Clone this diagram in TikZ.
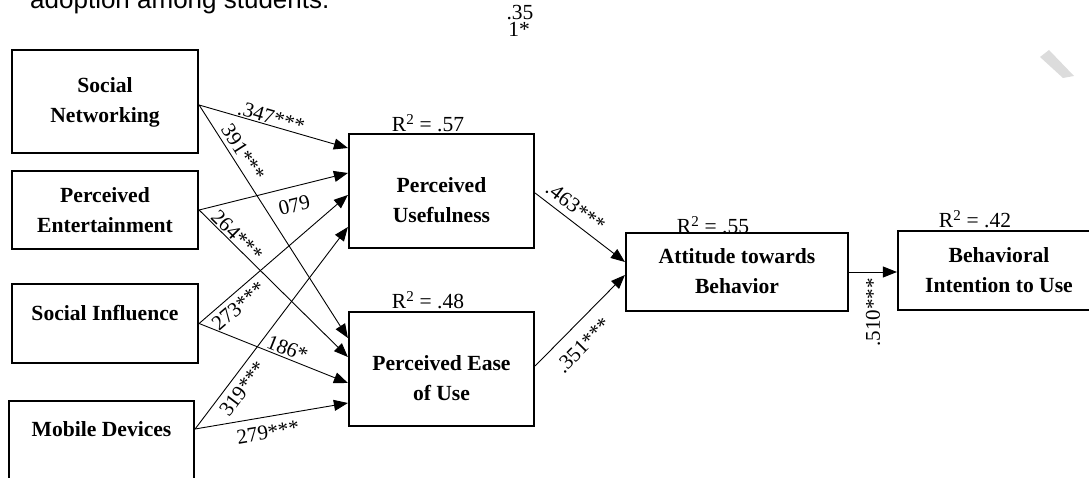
\documentclass[tikz,border=0pt]{standalone}
\usepackage{fontspec}
\setmainfont{Liberation Serif}
\newfontfamily\arialfont{Liberation Sans}
\usetikzlibrary{arrows.meta,calc}
\definecolor{wmgray}{RGB}{220,220,220}
\begin{document}
\begin{tikzpicture}[x=1pt,y=-1pt,
  box/.style={draw, line width=2.2pt, inner sep=0pt},
  boxtext/.style={font=\fontsize{21.6}{30}\selectfont\bfseries, align=center, inner sep=0pt},
  lab/.style={font=\fontsize{21}{24}\selectfont, inner sep=1pt},
  rsq/.style={font=\fontsize{21.5}{24}\selectfont, inner sep=0pt},
  arr/.style={line width=0.9pt, -{Triangle[length=14pt,width=11pt]}},
]
\useasboundingbox (0,0) rectangle (1089,478);
\clip (0,0) rectangle (1089,478);

% caption fragment and stray text
\node[font=\arialfont\fontsize{26}{30}\selectfont, anchor=base west, inner sep=0pt] (cap) at (30,9) {adoption among students.};
\node[rsq, anchor=base] (n35) at (520,20) {.35};
\node[rsq, anchor=base] (n1s) at (519,37) {1*};
\fill[wmgray] (1040,57) -- (1049,50) -- (1074,76) -- (1063,78) -- cycle;

% boxes
\node[box, minimum width=186pt, minimum height=103pt] (sn) at (105,101.5) {};
\node[box, minimum width=186pt, minimum height=78pt] (pe) at (105,210) {};
\node[box, minimum width=186pt, minimum height=79pt] (si) at (105,323.5) {};
\node[box, minimum width=185pt, minimum height=119pt] (md) at (101.5,460.5) {};
\node[box, minimum width=185pt, minimum height=114pt] (pu) at (441.5,191) {};
\node[box, minimum width=185pt, minimum height=114pt] (peou) at (441.5,369) {};
\node[box, minimum width=222pt, minimum height=78pt] (atb) at (737,272) {};
\node[box, minimum width=202pt, minimum height=79pt] (bi) at (999,270.5) {};

% box texts
\node[boxtext] (snT) at (105,102) {Social\\Networking};
\node[boxtext] (peT) at (105,210) {Perceived\\Entertainment};
\node[boxtext] (siT) at (105,313) {Social Influence};
\node[boxtext] (mdT) at (101.5,429) {Mobile Devices};
\node[boxtext] (puT) at (441.5,200) {Perceived\\Usefulness};
\node[boxtext] (peouT) at (441.5,378) {Perceived Ease\\of Use};
\node[boxtext] (atbT) at (737,271.5) {Attitude towards\\Behavior};
\node[boxtext] (biT) at (999,270) {Behavioral\\Intention to Use};

% R^2 labels
\node[rsq] (r57) at (428,123) {R\textsuperscript{2} = .57};
\node[rsq] (r48) at (428,300) {R\textsuperscript{2} = .48};
\node[rsq] (r55) at (713,225) {R\textsuperscript{2} = .55};
\node[rsq] (r42) at (975,219) {R\textsuperscript{2} = .42};

% paths into Perceived Usefulness
\draw[arr] ([yshift=-3.5pt]sn.east) -- node[lab, sloped, above=0pt, pos=0.47] (l347) {.347***} ([yshift=43pt]pu.west);
\draw[arr] (pe.east) -- node[lab, sloped, below=10pt, pos=0.61] (l079) {079} ([yshift=18pt]pu.west);
\draw[arr] (si.east) -- node[lab, sloped, below=4pt, pos=0.21] (l273) {273***} ([yshift=-4pt]pu.west);
\draw[arr] ([yshift=31.5pt]md.east) -- node[lab, sloped, below=5pt, pos=0.24] (l319) {319***} ([yshift=-36pt]pu.west);

% paths into Perceived Ease of Use
\draw[arr] ([yshift=-3.5pt]sn.east) -- node[lab, sloped, above=3pt, pos=0.23] (l391) {391***} ([yshift=31pt]peou.west);
\draw[arr] (pe.east) -- node[lab, sloped, above=0pt, pos=0.215] (l264) {264***} ([yshift=12pt]peou.west);
\draw[arr] (si.east) -- node[lab, sloped, above=1pt, pos=0.57] (l186) {186*} ([yshift=-14pt]peou.west);
\draw[arr] ([yshift=31.5pt]md.east) -- node[lab, sloped, below=7pt, pos=0.46] (l279) {279***} ([yshift=-34pt]peou.west);

% into attitude
\draw[arr] ([yshift=-2pt]pu.east) -- node[lab, sloped, above=5pt, pos=0.36] (l463) {.463***} ([yshift=10pt]atb.west);
\draw[arr] ([yshift=3pt]peou.east) -- node[lab, sloped, below=11pt, pos=0.38] (l351) {.351***} ([yshift=-3pt]atb.west);

% into intention
\draw[arr] (atb.east) -- (bi.west |- atb.east) coordinate[pos=0.5] (m510);
\node[lab, rotate=90, anchor=east] (l510) at ([yshift=-5pt]m510) {.510***};
\end{tikzpicture}
\end{document}
